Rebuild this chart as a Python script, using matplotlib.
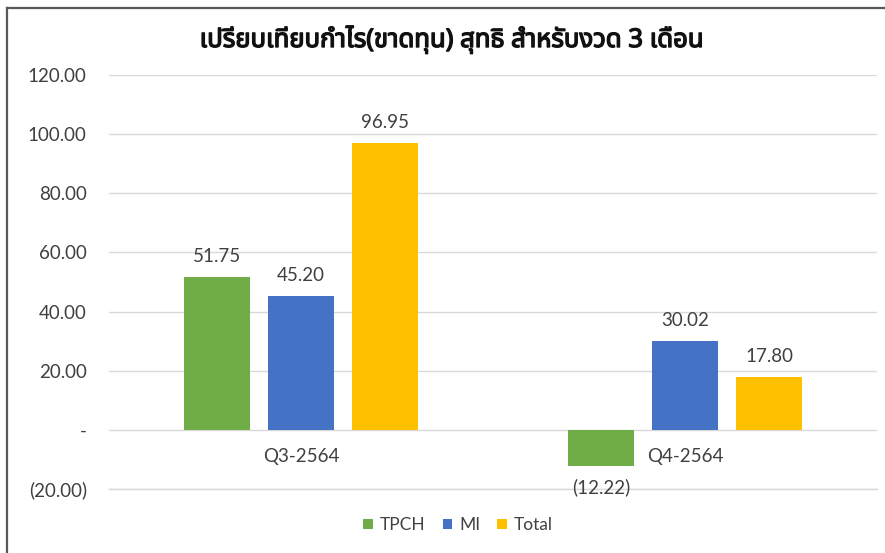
import matplotlib
matplotlib.use("Agg")
import matplotlib.pyplot as plt
from matplotlib import font_manager
from matplotlib.ft2font import FT2Font
from matplotlib.lines import Line2D
from matplotlib.ticker import FuncFormatter, MultipleLocator
import matplotlib.patheffects as pe
import numpy as np

categories = ["Q3-2564", "Q4-2564"]
series_names = ["TPCH", "MI", "Total"]
tpch = [51.75, -12.22]
mi = [45.20, 30.02]
total = [96.95, 17.80]
title = "เปรียบเทียบกำไร(ขาดทุน) สุทธิ สำหรับงวด 3 เดือน"

colors = ["#70AD47", "#4472C4", "#FFC000"]
text_color = "#404040"

# find a font that has Thai glyphs
thai_font = None
preferred = ["Noto Sans Thai", "Noto Sans Thai UI", "Tahoma", "Loma", "Garuda", "Sarabun", "Noto Serif Thai"]
def has_thai(path):
    try:
        cm = FT2Font(path).get_charmap()
        return 0x0E40 in cm and 0x0E01 in cm
    except Exception:
        return False
thai_names = []
for f in font_manager.fontManager.ttflist:
    if f.name not in thai_names and has_thai(f.fname):
        thai_names.append(f.name)
for p in preferred:
    if p in thai_names:
        thai_font = p
        break
if thai_font is None and thai_names:
    thai_font = thai_names[0]

base_font = "Lato"
plt.rcParams["font.family"] = [base_font, "DejaVu Sans"]

fig = plt.figure(figsize=(8.85, 5.53), dpi=100)
ax = fig.add_axes([109/885, 1-489/553, (877-109)/885, (489-75)/553])

fs = 13.5
x = np.arange(len(categories))
width = 0.172
offset = 0.219
all_series = [tpch, mi, total]
for i, (vals, name, c) in enumerate(zip(all_series, series_names, colors)):
    xs = x + (i - 1) * offset
    ax.bar(xs, vals, width=width, color=c, label=name, zorder=3)
    for xi, v in zip(xs, vals):
        if v >= 0:
            ax.text(xi, v + 4.0, f"{v:.2f}", ha="center", va="bottom",
                    fontsize=fs, color=text_color)
        else:
            ax.text(xi, v - 4.0, f"({abs(v):.2f})", ha="center", va="top",
                    fontsize=fs, color=text_color)

ax.set_ylim(-20, 120)
ax.set_xlim((109-301)/384, 1 + (877-685)/384)
ax.yaxis.set_major_locator(MultipleLocator(20))

def fmt(v, pos):
    if abs(v) < 1e-9:
        return "-"
    if v < 0:
        return f"({abs(v):.2f})"
    return f"{v:.2f}"
ax.yaxis.set_major_formatter(FuncFormatter(fmt))
ax.tick_params(axis="y", length=0, pad=16, labelsize=fs, labelcolor=text_color)
ax.set_xticks([])
for i, cat in enumerate(categories):
    ax.text(x[i], -9.0, cat, ha="center", va="center", fontsize=fs, color=text_color)

ax.grid(axis="y", color="#D9D9D9", linewidth=1, zorder=0)
ax.axhline(-20, color="#D9D9D9", linewidth=1, zorder=0, clip_on=False)
for s in ax.spines.values():
    s.set_visible(False)

tkw = dict(fontsize=18.5, fontweight="bold", color="#111111")
if thai_font:
    tkw["family"] = [thai_font, "DejaVu Sans"]
ttl = fig.text(452/885, 1-40/553, title, ha="center", va="center", **tkw)
ttl.set_path_effects([pe.withStroke(linewidth=1.0, foreground="#111111")])

leg = fig.legend(loc="center", bbox_to_anchor=(458/885, 1-525/553), ncol=3,
                 frameon=False, fontsize=12.5, handlelength=0.55, handleheight=0.55,
                 handletextpad=0.4, columnspacing=1.0)
for t in leg.get_texts():
    t.set_color(text_color)

fig.add_artist(Line2D([7/885, 7/885], [0, 1-8/553], color="#595959", linewidth=1.6))
fig.add_artist(Line2D([7/885, 1], [1-8/553, 1-8/553], color="#595959", linewidth=1.6))

fig.savefig("out.png", dpi=100)
